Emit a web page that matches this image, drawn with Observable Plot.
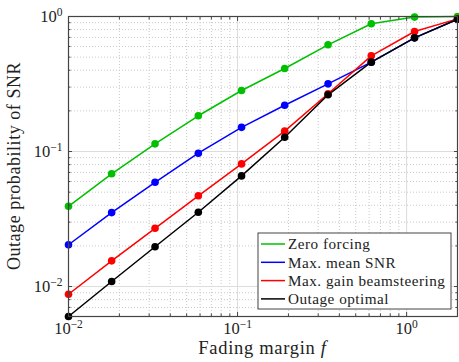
<!DOCTYPE html>
<html><head><meta charset="utf-8">
<script src="https://cdn.jsdelivr.net/npm/d3@7"></script>
<script src="https://cdn.jsdelivr.net/npm/@observablehq/plot@0.6"></script>
<style>
body{margin:0;background:#fff;}
svg text{font-family:"Liberation Serif","Times New Roman",serif;}
</style>
</head><body><div id="chart"></div>
<script>
const fadingMargin = [0.01, 0.018, 0.0325, 0.0586, 0.1056, 0.19, 0.343, 0.618, 1.114, 2.0];
const zeroForcing = [0.0393, 0.0684, 0.114, 0.184, 0.283, 0.412, 0.617, 0.883, 0.99, 1.0];
const maxMeanSNR = [0.0204, 0.0353, 0.0592, 0.0972, 0.151, 0.220, 0.317, 0.459, 0.695, 0.955];
const maxGainBeam = [0.00877, 0.0155, 0.0270, 0.047, 0.081, 0.1415, 0.268, 0.511, 0.774, 0.96];
const outageOptimal = [0.006, 0.0109, 0.0197, 0.0355, 0.066, 0.1277, 0.263, 0.459, 0.695, 0.955];
const seriesNames = ["Zero forcing", "Max. mean SNR", "Max. gain beamsteering", "Outage optimal"];
const seriesColors = ["#00c000", "#0000ff", "#ff0000", "#000000"];
const seriesValues = [zeroForcing, maxMeanSNR, maxGainBeam, outageOptimal];
const xMajor = [0.01, 0.1, 1];
const xMajorLabels = ["10^-2", "10^-1", "10^0"];
const yMajor = [0.01, 0.1, 1];
const yMajorLabels = ["10^-2", "10^-1", "10^0"];
const xMinor = [0.02,0.03,0.04,0.05,0.06,0.07,0.08,0.09,0.2,0.3,0.4,0.5,0.6,0.7,0.8,0.9,2];
const yMinor = [0.006,0.007,0.008,0.009,0.02,0.03,0.04,0.05,0.06,0.07,0.08,0.09,0.2,0.3,0.4,0.5,0.6,0.7,0.8,0.9];
const xLabel = "Fading margin ";
const yLabel = "Outage probability of SNR";

const rows = [];
seriesNames.forEach((name, i) => fadingMargin.forEach((x, j) => rows.push({series: name, x, y: seriesValues[i][j]})));
const colorOf = Object.fromEntries(seriesNames.map((n, i) => [n, seriesColors[i]]));

const W = 459, H = 362;
const mL = 68, mR = 2, mT = 16, mB = 46;
const axisColor = "#444";

const plot = Plot.plot({
  width: W, height: H,
  marginLeft: mL, marginRight: mR, marginTop: mT, marginBottom: mB,
  x: {type: "log", domain: [0.01, 2]},
  y: {type: "log", domain: [0.006, 1]},
  style: {fontFamily: "Liberation Serif, serif", background: "#fff"},
  marks: [
    Plot.gridX(xMinor, {stroke: "#c8c8c8", strokeOpacity: 1, strokeDasharray: "1,2"}),
    Plot.gridY(yMinor, {stroke: "#c8c8c8", strokeOpacity: 1, strokeDasharray: "1,2"}),
    Plot.gridX(xMajor, {stroke: "#dcdcdc", strokeOpacity: 1, strokeWidth: 1}),
    Plot.gridY(yMajor, {stroke: "#dcdcdc", strokeOpacity: 1, strokeWidth: 1}),
    ...seriesNames.map(name => Plot.line(rows.filter(r => r.series === name), {x: "x", y: "y", stroke: colorOf[name], strokeWidth: 1.5})),
    ...seriesNames.map(name => Plot.dot(rows.filter(r => r.series === name), {x: "x", y: "y", fill: colorOf[name], r: 3.8, stroke: null})),
    Plot.axisX(xMajor, {anchor: "bottom", tickSize: -4, fill: "none", stroke: axisColor, label: null}),
    Plot.axisX(xMajor, {anchor: "top", tickSize: -4, fill: "none", stroke: axisColor, label: null}),
    Plot.axisX(xMinor, {anchor: "bottom", tickSize: -2.5, fill: "none", stroke: axisColor, label: null}),
    Plot.axisX(xMinor, {anchor: "top", tickSize: -2.5, fill: "none", stroke: axisColor, label: null}),
    Plot.axisY(yMajor, {anchor: "left", tickSize: -4, fill: "none", stroke: axisColor, label: null}),
    Plot.axisY(yMajor, {anchor: "right", tickSize: -4, fill: "none", stroke: axisColor, label: null}),
    Plot.axisY(yMinor, {anchor: "left", tickSize: -2.5, fill: "none", stroke: axisColor, label: null}),
    Plot.axisY(yMinor, {anchor: "right", tickSize: -2.5, fill: "none", stroke: axisColor, label: null}),
    Plot.axisX(xMajor, {anchor: "bottom", tickSize: 0, tickPadding: 6, fontSize: 16.5, fill: "#222", label: null,
      tickFormat: d => xMajorLabels[xMajor.indexOf(d)]}),
    Plot.axisY(yMajor, {anchor: "left", tickSize: 0, tickPadding: 6, fontSize: 16.5, fill: "#222", label: null,
      tickFormat: d => yMajorLabels[yMajor.indexOf(d)]}),
    Plot.frame({stroke: axisColor, strokeWidth: 1.2})
  ]
});

const svg = d3.select(plot);
// superscript tick labels
svg.selectAll('g[aria-label="x-axis tick label"] text, g[aria-label="y-axis tick label"] text').each(function() {
  const t = d3.select(this);
  const s = t.text();
  const parts = s.split("^");
  if (parts.length !== 2) return;
  t.text(null);
  t.append("tspan").text(parts[0]);
  t.append("tspan").attr("dy", "-0.5em").attr("font-size", "11.5px").text(parts[1].replace("-", "\u2212"));
});

// axis titles
svg.append("text").attr("x", (mL + W - mR) / 2).attr("y", 354).attr("text-anchor", "middle")
  .attr("font-size", 18.5).attr("fill", "#222").attr("letter-spacing", "0.7px")
  .call(t => { t.append("tspan").text(xLabel); t.append("tspan").attr("font-style", "italic").text("f"); });
svg.append("text").attr("transform", `translate(20,${(mT + H - mB) / 2}) rotate(-90)`).attr("text-anchor", "middle")
  .attr("font-size", 18).attr("fill", "#222").attr("letter-spacing", "0.55px").text(yLabel);

// legend
const lg = svg.append("g");
const lx = 258, ly = 233, lw = 193, lh = 76;
lg.append("rect").attr("x", lx).attr("y", ly).attr("width", lw).attr("height", lh)
  .attr("fill", "#fff").attr("stroke", axisColor).attr("stroke-width", 1);
seriesNames.forEach((name, i) => {
  const yy = ly + 11 + i * 18.3;
  lg.append("line").attr("x1", lx + 3).attr("x2", lx + 27).attr("y1", yy).attr("y2", yy)
    .attr("stroke", seriesColors[i]).attr("stroke-width", 1.5);
  lg.append("text").attr("x", lx + 30).attr("y", yy).attr("dy", "0.35em").attr("font-size", 15.2)
    .attr("text-anchor", "start")
    .attr("letter-spacing", "0.5px").attr("fill", "#222").text(name);
});

document.getElementById("chart").appendChild(plot);
</script>
</body></html>
